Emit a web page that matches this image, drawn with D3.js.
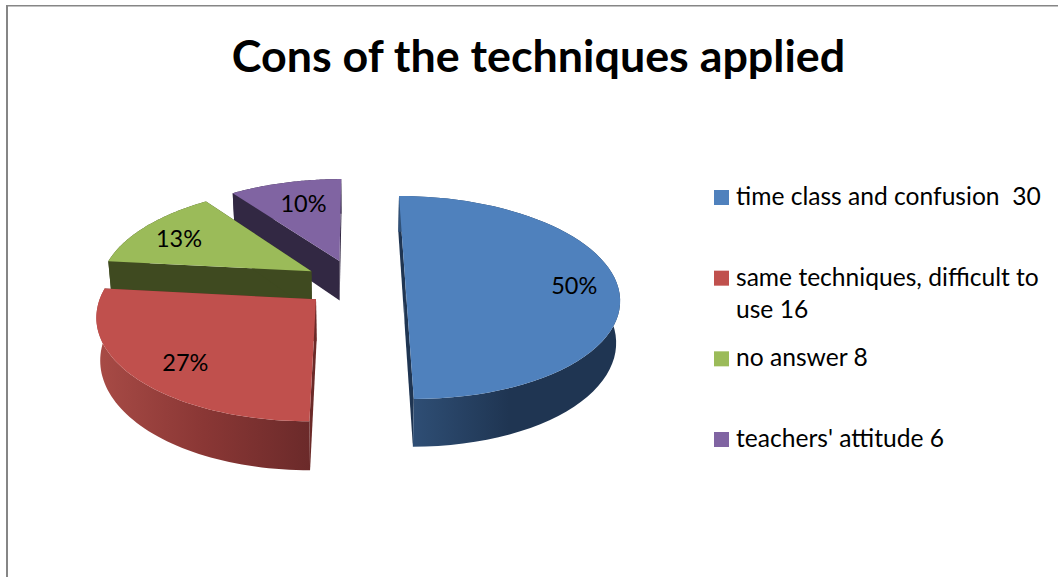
<!DOCTYPE html>
<html>
<head>
<meta charset="utf-8">
<script src="https://cdn.jsdelivr.net/npm/d3@7"></script>
<style>
html, body { margin: 0; padding: 0; background: #fff; overflow: hidden; }
text { font-family: Lato, Carlito, sans-serif; fill: #000; white-space: pre; }
</style>
</head>
<body>
<div id="main"></div>
<script>
var chartTitle = "Cons of the techniques applied";
var categories = ["time class and confusion", "same techniques, difficult to use", "no answer", "teachers' attitude"];
var values = [30, 16, 8, 6];
var legendLines = [["time class and confusion  30"], ["same techniques, difficult to", "use 16"], ["no answer 8"], ["teachers' attitude 6"]];
var topColors = ["#4F81BD", "#C0504D", "#9BBB59", "#8064A2"];
var cutColors = ["#1F3552", "#6B2A28", "#3F4A20", "#322843"];
var wallStops = [["#31527A", "#1F3552", "#1F3552"], ["#A84B46", "#8A3735", "#6B2A2A"], ["#3F4A20", "#3F4A20", "#3F4A20"], ["#322843", "#322843", "#322843"]];

var width = 1058, height = 577;

// perspective set-up of the pie, ground radius is 1
var cx = 354.6, cy = 283, D = 7, focalX = 1480, focalY = 4872, wall = 286, explode = 0.24, taper = 0.985;
var labelR = [0.795, 0.777, 0.77, 0.70];
var labelTurn = [2, -4, -2, 1.5];

function project(X, Z, low) {
  var x = focalX * X / (D + Z);
  return [cx + x * (low ? taper : 1), cy - focalY / D + (focalY + (low ? wall : 0)) / (D + Z)];
}

var svg = d3.select("#main").append("svg")
  .attr("width", width)
  .attr("height", height);

// frame, only top and left are in the crop
svg.append("line").attr("x1", 6).attr("x2", width).attr("y1", 5.7).attr("y2", 5.7)
  .style("stroke", "#868686").style("stroke-width", 1.5);
svg.append("line").attr("x1", 7).attr("x2", 7).attr("y1", 5).attr("y2", height)
  .style("stroke", "#868686").style("stroke-width", 2);

svg.append("text")
  .text(chartTitle)
  .attr("x", 538.5)
  .attr("y", 72)
  .attr("text-anchor", "middle")
  .style("font-size", "44.8px")
  .style("font-weight", "bold");

var total = d3.sum(values);
var slices = d3.pie().sort(null)(values).map(function(d, i) {
  var mid = (d.startAngle + d.endAngle) / 2;
  d.i = i;
  d.ox = explode * Math.sin(mid);
  d.oz = explode * Math.cos(mid);
  return d;
});

var line = d3.line();
var defs = svg.append("defs");

function rim(d, low) {
  var steps = d3.range(0, 61).map(function(k) {
    var a = d.startAngle + (d.endAngle - d.startAngle) * k / 60;
    return project(d.ox + Math.sin(a), d.oz + Math.cos(a), low);
  });
  return steps;
}

function cutFace(d, a) {
  return [
    project(d.ox, d.oz, false),
    project(d.ox + Math.sin(a), d.oz + Math.cos(a), false),
    project(d.ox + Math.sin(a), d.oz + Math.cos(a), true),
    project(d.ox, d.oz, true)
  ];
}

function labelPos(d) {
  var mid = (d.startAngle + d.endAngle) / 2 + labelTurn[d.i] * Math.PI / 180;
  return project(d.ox + labelR[d.i] * Math.sin(mid), d.oz + labelR[d.i] * Math.cos(mid), false);
}

slices.forEach(function(d) {
  var g = defs.append("linearGradient").attr("id", "wall" + d.i);
  g.selectAll("stop").data(wallStops[d.i]).enter().append("stop")
    .attr("offset", function(c, k) { return k * 50 + "%"; })
    .attr("stop-color", function(c) { return c; });
});

// back to front
var order = [3, 2, 0, 1];
var pieG = svg.append("g");
order.forEach(function(i) {
  var d = slices[i];
  var g = pieG.append("g");
  g.append("path").attr("d", line(cutFace(d, d.startAngle)) + "Z").style("fill", cutColors[i]);
  g.append("path").attr("d", line(cutFace(d, d.endAngle)) + "Z").style("fill", cutColors[i]);
  g.append("path")
    .attr("d", line(rim(d, false).concat(rim(d, true).reverse())) + "Z")
    .style("fill", "url(#wall" + i + ")");
  g.append("path")
    .attr("d", line([project(d.ox, d.oz, false)].concat(rim(d, false))) + "Z")
    .style("fill", topColors[i]);
});

// percent labels
pieG.selectAll("text")
  .data(slices)
  .enter()
  .append("text")
  .text(function(d) { return Math.round(d.value / total * 100) + "%"; })
  .attr("text-anchor", "middle")
  .attr("x", function(d) { return labelPos(d)[0]; })
  .attr("y", function(d) { return labelPos(d)[1] + 8.5; })
  .style("font-size", "23.5px");

// legend
var legendY = d3.scalePoint().domain(categories).range([197.5, 439.5]);
var legend = svg.selectAll(".legend")
  .data(categories)
  .enter()
  .append("g")
  .attr("class", "legend")
  .attr("transform", function(d) { return "translate(714," + legendY(d) + ")"; });

legend.append("rect")
  .attr("x", 0)
  .attr("y", -7.5)
  .attr("width", 15)
  .attr("height", 15)
  .style("fill", function(d, i) { return topColors[i]; });

legend.append("text")
  .attr("y", 7.5)
  .style("font-size", "24.6px")
  .selectAll("tspan")
  .data(function(d, i) { return legendLines[i]; })
  .enter()
  .append("tspan")
  .attr("x", 22)
  .attr("dy", function(d, k) { return k ? 32 : 0; })
  .text(function(d) { return d; });
</script>
</body>
</html>
